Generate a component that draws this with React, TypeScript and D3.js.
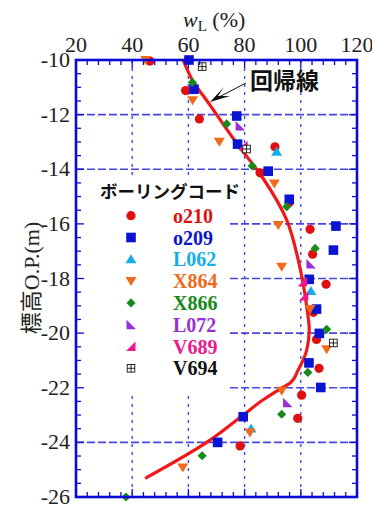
import React from 'react';
import * as d3 from 'd3';

// wL (%) vs elevation O.P. (m)
const o210 = [[46.3, -10.04], [59.0, -11.12], [63.9, -12.16], [90.8, -13.18], [85.5, -14.13], [95.9, -15.22], [103.3, -16.2], [104.2, -17.11], [109.0, -18.21], [104.5, -19.24], [105.6, -20.23], [106.5, -21.29], [100.3, -22.27], [98.9, -23.12], [78.4, -24.13]];
const o209 = [[60.2, -10.0], [62.0, -11.07], [77.2, -12.05], [77.5, -13.08], [88.4, -14.07], [95.9, -15.1], [112.5, -16.08], [111.6, -16.96], [103.0, -18.03], [105.6, -19.12], [106.6, -20.01], [102.9, -21.09], [107.1, -21.99], [79.5, -23.06], [70.4, -24.0]];
const L062 = [[91.4, -13.36], [103.6, -18.46], [82.3, -23.49]];
const X864 = [[44.8, -10.0], [61.5, -11.47], [71.0, -12.99], [90.6, -14.52], [92.0, -16.04], [93.2, -17.57], [103.3, -19.12], [109.2, -20.59], [93.2, -22.11], [81.9, -23.64], [58.0, -24.92]];
const X866 = [[61.4, -10.82], [73.6, -12.34], [82.7, -13.88], [95.0, -15.37], [105.1, -16.9], [109.2, -19.86], [102.5, -21.44], [93.2, -22.97], [64.9, -24.49], [37.8, -26.0]];
const L072 = [[78.4, -12.42], [103.6, -17.47], [95.3, -22.55]];
const V689 = [[79.5, -13.14], [100.7, -18.12], [101.1, -18.64]];
const V694 = [[64.9, -10.24], [80.7, -13.26], [111.6, -20.36]];

// regression curve (回帰線)
const regression = [[58.1, -10.0], [61.4, -10.73], [67.7, -11.65], [77.2, -13.05], [86.5, -14.32], [95.0, -15.86], [99.1, -17.33], [102.1, -19.03], [103.0, -19.89], [102.1, -20.62], [99.0, -21.36], [96.2, -21.83], [92.6, -22.05], [86.5, -22.45], [79.5, -23.0], [67.7, -23.92], [44.6, -25.32]];

const xTicks = [20, 40, 60, 80, 100, 120];
const yTicks = [-10, -12, -14, -16, -18, -20, -22, -24, -26];

const series = [
  { name: 'o210', data: o210, color: '#e01010', shape: 'circle' },
  { name: 'o209', data: o209, color: '#0a14d2', shape: 'square' },
  { name: 'L062', data: L062, color: '#16aee8', shape: 'up' },
  { name: 'X864', data: X864, color: '#f06a1c', shape: 'down' },
  { name: 'X866', data: X866, color: '#178a1a', shape: 'diamond' },
  { name: 'L072', data: L072, color: '#9a2fd8', shape: 'll' },
  { name: 'V689', data: V689, color: '#ec188c', shape: 'lr' },
  { name: 'V694', data: V694, color: '#111111', shape: 'boxcross' },
];

const W = 372;
const H = 510;
const margin = { top: 60, right: 15, bottom: 13, left: 76 };
const axisColor = '#0a0ad8';
const gridColor = '#4848e0';

const x = d3.scaleLinear().domain([20, 120]).range([margin.left, W - margin.right]);
const y = d3.scaleLinear().domain([-10, -26]).range([margin.top, H - margin.bottom]);

const Marker = ({ shape, color, cx, cy }) => {
  const t = `translate(${cx},${cy})`;
  if (shape === 'circle') return <circle cx={cx} cy={cy} r={4.6} fill={color} />;
  if (shape === 'square') return <rect x={cx - 4.8} y={cy - 4.8} width={9.6} height={9.6} fill={color} />;
  if (shape === 'up') return <path transform={t} d="M0,-5L5.5,4L-5.5,4Z" fill={color} />;
  if (shape === 'down') return <path transform={t} d="M0,5L5.5,-4L-5.5,-4Z" fill={color} />;
  if (shape === 'diamond') return <path transform={t} d="M0,-4.6L4.6,0L0,4.6L-4.6,0Z" fill={color} />;
  if (shape === 'll') return <path transform={t} d="M-4.5,-5L-4.5,4.5L5,4.5Z" fill={color} />;
  if (shape === 'lr') return <path transform={t} d="M4.5,-5L4.5,4.5L-5,4.5Z" fill={color} />;
  return (
    <g transform={t} stroke={color} strokeWidth={0.9} fill="white">
      <rect x={-3.8} y={-3.8} width={7.6} height={7.6} />
      <line x1={0} y1={-3.8} x2={0} y2={3.8} />
      <line x1={-3.8} y1={0} x2={3.8} y2={0} />
    </g>
  );
};

const App = () => {
  const x0 = margin.left;
  const x1 = W - margin.right;
  const y0 = margin.top;
  const y1 = H - margin.bottom;

  const line = d3.line().x(d => x(d[0])).y(d => y(d[1])).curve(d3.curveMonotoneY);

  const xMinor = d3.range(20, 120.1, 4);
  const yMinor = d3.range(-10, -26.01, -0.5);

  const legendX = 131;
  const legendY = 215.7;
  const legendStep = 21.8;

  return (
    <svg width={W} height={H} style={{ position: 'absolute', left: 0, top: 0, background: 'white' }}>
      {/* grid */}
      {xTicks.slice(1, -1).map(v => (
        <line key={'gx' + v} x1={x(v)} x2={x(v)} y1={y0} y2={y1} stroke={gridColor} strokeWidth={1.4} strokeDasharray="3 5" />
      ))}
      {yTicks.slice(1, -1).map(v => (
        <line key={'gy' + v} x1={x0} x2={x1} y1={y(v)} y2={y(v)} stroke={gridColor} strokeWidth={1.6} strokeDasharray="8 3" />
      ))}

      {/* legend background */}
      <rect x={x0 + 1} y={177} width={152} height={214} fill="white" />

      {/* regression curve */}
      <path d={line(regression)} fill="none" stroke="#f01818" strokeWidth={3.2} />

      {/* points */}
      {series.map(s => (
        <g key={s.name}>
          {s.data.map((d, i) => (
            <Marker key={i} shape={s.shape} color={s.color} cx={x(d[0])} cy={y(d[1])} />
          ))}
        </g>
      ))}

      {/* ticks */}
      {xMinor.map(v => {
        const len = v % 20 === 0 ? 8 : 5;
        return (
          <g key={'tx' + v} stroke={axisColor} strokeWidth={1.3}>
            <line x1={x(v)} x2={x(v)} y1={y0} y2={y0 + len} />
            <line x1={x(v)} x2={x(v)} y1={y1} y2={y1 - len} />
          </g>
        );
      })}
      {yMinor.map(v => {
        const len = Math.abs(v) % 2 === 0 ? 8 : 5;
        return (
          <g key={'ty' + v} stroke={axisColor} strokeWidth={1.3}>
            <line x1={x0} x2={x0 + len} y1={y(v)} y2={y(v)} />
            <line x1={x1} x2={x1 - len} y1={y(v)} y2={y(v)} />
          </g>
        );
      })}

      {/* frame */}
      <rect x={x0} y={y0} width={x1 - x0} height={y1 - y0} fill="none" stroke={axisColor} strokeWidth={2.6} />

      {/* tick labels */}
      {xTicks.map(v => (
        <text key={'lx' + v} x={x(v)} y={52} textAnchor="middle" fontFamily="Liberation Serif" fontSize={22} fill="#222">{v}</text>
      ))}
      {yTicks.map(v => (
        <text key={'ly' + v} x={70} y={y(v) + 7} textAnchor="end" fontFamily="Liberation Serif" fontSize={22} fill="#222">{v}</text>
      ))}

      {/* axis titles */}
      <text x={183} y={27} fontFamily="Liberation Serif" fontSize={22} fill="#222">
        <tspan fontStyle="italic">w</tspan>
        <tspan fontSize={15} dy={4}>L</tspan>
        <tspan dy={-4}> (%)</tspan>
      </text>
      <text transform="translate(39,278) rotate(-90)" textAnchor="middle" fontFamily="'Liberation Serif', 'Noto Sans CJK JP'" fontSize={22} fill="#222">
        標高O.P.(m)
      </text>

      {/* annotation */}
      <text x={250} y={89} fontFamily="'Noto Sans CJK JP'" fontWeight="bold" fontSize={23} fill="#111">回帰線</text>
      <line x1={246} y1={83} x2={219} y2={97} stroke="#111" strokeWidth={1} />
      <path d="M210,102 L224,87 L218,96 L230,96 Z" fill="#111" />

      {/* legend */}
      <text x={100} y={198} fontFamily="'Noto Sans CJK JP'" fontWeight="bold" fontSize={17.5} fill="#111">ボーリングコード</text>
      {series.map((s, i) => (
        <g key={'lg' + s.name}>
          <Marker shape={s.shape} color={s.color} cx={legendX} cy={legendY + i * legendStep} />
          <text x={173} y={legendY + i * legendStep + 7} fontFamily="Liberation Serif" fontWeight="bold" fontSize={20} fill={s.color}>{s.name}</text>
        </g>
      ))}
    </svg>
  );
};

export default App;
